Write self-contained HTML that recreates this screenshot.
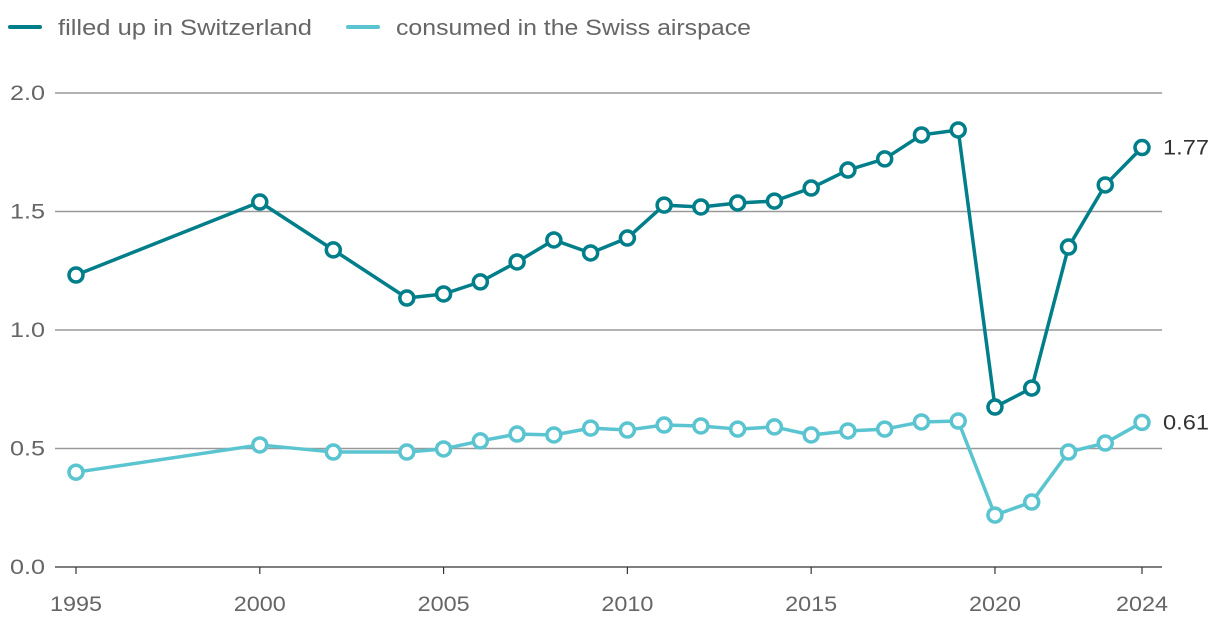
<!DOCTYPE html>
<html><head><meta charset="utf-8"><style>
html,body{margin:0;padding:0;background:#fff;}
svg{display:block;font-family:"Liberation Sans",sans-serif;}
</style></head><body>
<svg id="chart" width="1220" height="634">
<g id="legend">
  <g>
    <line x1="10" y1="27" x2="40" y2="27" stroke="#007e8a" stroke-width="4" stroke-linecap="round"/>
    <text x="58" y="35" font-size="22" fill="#666" textLength="254" lengthAdjust="spacingAndGlyphs">filled up in Switzerland</text>
  </g>
  <g>
    <line x1="348" y1="27" x2="378" y2="27" stroke="#5bc4d1" stroke-width="4" stroke-linecap="round"/>
    <text x="396" y="35" font-size="22" fill="#666" textLength="355" lengthAdjust="spacingAndGlyphs">consumed in the Swiss airspace</text>
  </g>
</g>
<g id="grid"></g>
<g id="axes"></g>
<g id="series"></g>
</svg>
<script>
const years=[1995,2000,2002,2004,2005,2006,2007,2008,2009,2010,2011,2012,2013,2014,2015,2016,2017,2018,2019,2020,2021,2022,2023,2024];
const filledUp=[1.232,1.54,1.338,1.135,1.152,1.203,1.287,1.38,1.325,1.388,1.527,1.519,1.536,1.544,1.599,1.675,1.722,1.823,1.844,0.675,0.755,1.35,1.612,1.77];
const consumed=[0.40,0.515,0.485,0.485,0.498,0.532,0.561,0.557,0.586,0.578,0.599,0.595,0.582,0.591,0.557,0.574,0.582,0.612,0.616,0.219,0.274,0.485,0.523,0.61];
const yTicks=[0,0.5,1.0,1.5,2.0];
const xTicks=[1995,2000,2005,2010,2015,2020,2024];
const NS='http://www.w3.org/2000/svg';
const x=v=>76+(v-1995)*(1142-76)/29;
const y=v=>567-v*237;
function mk(t,a,p){const e=document.createElementNS(NS,t);for(const k in a)e.setAttribute(k,a[k]);p.appendChild(e);return e;}
const grid=document.getElementById('grid'),axes=document.getElementById('axes'),ser=document.getElementById('series');
yTicks.forEach(v=>{
  const l=mk('line',{x1:55,x2:1162,y1:y(v),y2:y(v),stroke:v===0?'#333':'#999','stroke-width':v===0?1.2:1.5},grid);
  
  
  const t=mk('text',{x:45,y:y(v)+7,'font-size':21,fill:'#666','text-anchor':'end',textLength:35,lengthAdjust:'spacingAndGlyphs'},axes);
  t.textContent=v.toFixed(1);
  
  
});
xTicks.forEach(v=>{
  const l=mk('line',{x1:x(v),x2:x(v),y1:567,y2:574,stroke:'#333','stroke-width':1.2},axes);
  
  
  const t=mk('text',{x:x(v),y:611,'font-size':21,fill:'#666','text-anchor':'middle',textLength:52,lengthAdjust:'spacingAndGlyphs'},axes);
  t.textContent=v;
  
  
});
function draw(vals,color,name){
  const g=mk('g',{},ser);
  
  
  const p=mk('polyline',{points:vals.map((v,i)=>x(years[i])+','+y(v)).join(' '),fill:'none',stroke:color,'stroke-width':3.5,'stroke-linejoin':'round'},g);
  
  
  vals.forEach((v,i)=>{
    const c=mk('circle',{cx:x(years[i]),cy:y(v),r:7,fill:'#fff',stroke:color,'stroke-width':3.5},g);
    
    
  });
  const last=vals.length-1;
  const t=mk('text',{x:x(years[last])+21,y:y(vals[last])+7,'font-size':21,fill:'#333',textLength:46,lengthAdjust:'spacingAndGlyphs'},g);
  t.textContent=vals[last].toFixed(2);
  
  
}
draw(consumed,'#5bc4d1','consumed');
draw(filledUp,'#007e8a','filled-up');
</script>
</body></html>
